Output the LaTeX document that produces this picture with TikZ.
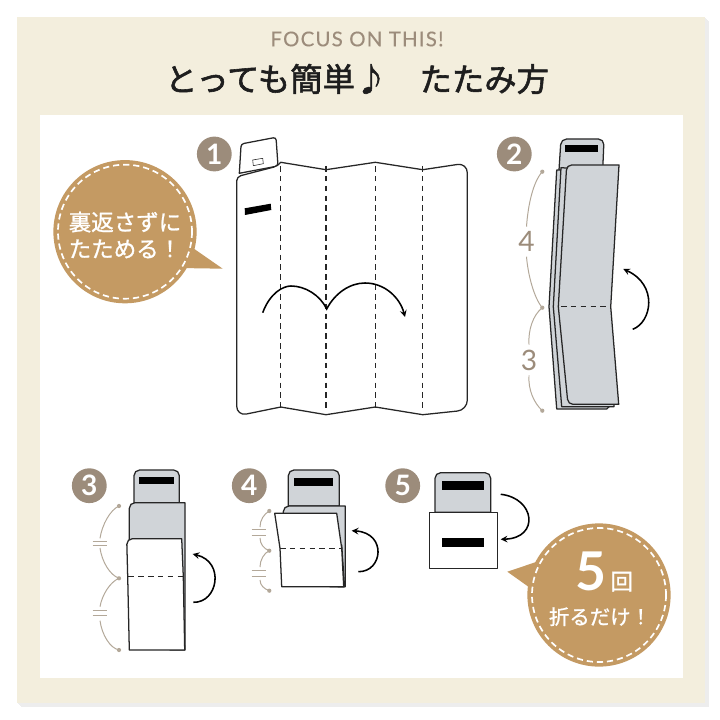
\documentclass[tikz,border=0pt]{standalone}
\usepackage{fontspec}
\usetikzlibrary{arrows}
\usetikzlibrary{positioning}
\setmainfont{Lato}
\newfontfamily\jpfont{Noto Sans CJK JP}[FakeBold=1.0]
\newfontfamily\jpheavy{Noto Sans CJK JP}[FakeBold=1.8]
\newfontfamily\spacedfont{Lato}[LetterSpace=6,FakeBold=0.2]
\definecolor{paneltan}{HTML}{F3EEDD}
\definecolor{taupe}{HTML}{9C8C7B}
\definecolor{braceline}{HTML}{B3A899}
\definecolor{bubbletan}{HTML}{C49A63}
\definecolor{sheetgray}{HTML}{D0D4D8}
\definecolor{titleink}{HTML}{1E1E1E}
\tikzset{
  outline/.style={draw=black!85, line width=0.9pt, line join=round},
  sheet/.style={outline, fill=sheetgray},
  page/.style={outline, fill=white},
  fold/.style={black!85, line width=0.8pt, dash pattern=on 4pt off 3pt},
  turn/.style={black, line width=1.1pt, ->},
  stepbadge/.style={circle, fill=taupe, text=white, minimum size=0.87cm, inner sep=0pt, font=\fontsize{20}{20}\selectfont\bfseries},
  bubble/.style={circle, fill=bubbletan, minimum size=3.58cm, inner sep=0pt},
  stitch/.style={white, line width=1.2pt, dash pattern=on 4.4pt off 2.8pt},
  bubbletext/.style={text=white, font=\jpfont\fontsize{16}{19}\selectfont, align=center},
  dotmark/.style={circle, fill=braceline, minimum size=3pt, inner sep=0pt},
  brace/.style={braceline, line width=0.7pt},
  count/.style={text=taupe, font=\fontsize{20}{20}\selectfont},
  bar/.style={fill=black}
}
\begin{document}
\begin{tikzpicture}[x=0.025cm, y=-0.025cm, >=stealth]
  \useasboundingbox (0, 0) rectangle (720, 720);
  \fill[white] (0, 0) rectangle (720, 720);
  % frame
  \foreach \i in {1,2,3,4} {
    \fill[black!7] (17+\i, 17+\i) rectangle (705+\i, 703+\i);
  }
  \fill[paneltan] (17, 17) rectangle (705, 703);
  \fill[white] (40, 115) rectangle (683, 678);
  \node[text=taupe, font=\spacedfont\fontsize{14.5}{14.5}\selectfont] (focus) at (357, 39) {FOCUS ON THIS!};
  \node[text=titleink, font=\jpheavy\fontsize{23}{23}\selectfont] (title) at (357, 79) {とっても簡単♪　たたみ方};

  % step one
  \node[stepbadge] (badgeA) at (214.3, 154) {1};
  \draw[page] (239.3, 173.3) -- (241, 146) [rounded corners=2pt] -- (241, 144) -- (276, 137.3) -- (278, 166) [sharp corners] -- cycle;
  \draw[outline, fill=white, thin] (252.7, 160) -- (262.7, 158.3) -- (263.3, 163.7) -- (253.3, 165.7) -- cycle;
  \draw[page] (236.7, 180) [rounded corners=3pt] -- (236.7, 176.7) -- (278, 166) [sharp corners] -- (280.7, 162.3) -- (326, 169.7) -- (375.3, 162.3) -- (422.7, 169.7) [rounded corners=7pt] -- (467.3, 163) -- (467.3, 410) [sharp corners] -- (422.7, 414.7) -- (375.3, 407) -- (326, 414.7) -- (280.7, 407) [rounded corners=7pt] -- (236.7, 416) [sharp corners] -- cycle;
  \foreach \x in {280.7, 326, 375.3, 422.7} {
    \draw[fold] (\x, 166) -- (\x, 411);
  }
  \fill[bar] (244.7, 208.3) -- (270.7, 203.7) -- (271.3, 210) -- (245, 215) -- cycle;
  \draw[turn] (262.7, 312.7) .. controls (270, 293) and (283, 286) .. (291, 286) .. controls (305, 286) and (320, 295) .. (326.7, 309) .. controls (335, 293) and (350, 283) .. (365, 283) .. controls (385, 283) and (400, 298) .. (405, 317);

  % left bubble
  \fill[bubbletan] (190, 246) -- (222.7, 268.7) -- (178, 268) -- cycle;
  \node[bubble] (bubbleA) at (125, 231.7) {};
  \draw[stitch] (bubbleA.center) circle (67);
  \node[bubbletext] (bubbleAtext) at (125, 235) {裏返さずに\\たためる！};

  % step two
  \node[stepbadge] (badgeB) at (514.3, 154) {2};
  \draw[sheet] (559, 170) [rounded corners=4pt] -- (561, 139) -- (604, 139) [sharp corners] -- (602.7, 170) -- cycle;
  \fill[bar] (565, 145) rectangle (598.3, 152.3);
  \draw[sheet] (556.7, 170) -- (549, 306.7) -- (556.7, 409) -- (606.7, 409) -- (612, 404) -- (600, 170) -- cycle;
  \draw[sheet] (561, 167.7) -- (553.3, 306.7) -- (561.7, 406.7) -- (614, 406.7) -- (614, 400) -- (600, 170) -- cycle;
  \draw[sheet] (558.3, 306.7) [rounded corners=3.5pt] -- (566.7, 165) [sharp corners] -- (619, 165) -- (610.7, 306.7) -- (618.7, 404.3) [rounded corners=3.5pt] -- (568, 404.3) [sharp corners] -- cycle;
  \draw[fold] (561, 306.7) -- (609.5, 306.7);
  \draw[turn] (632.7, 329.3) .. controls (652, 322) and (658, 285) .. (623.3, 269);
  \node[dotmark] (dotBa) at (542.3, 171.7) {};
  \node[dotmark] (dotBb) at (542.3, 307.7) {};
  \node[dotmark] (dotBc) at (542.3, 410.7) {};
  \node[count] (countB) at (526.5, 241.7) {4};
  \node[count] (countC) at (529, 360) {3};
  \draw[brace] (dotBa.center) .. controls (533, 182) and (528, 205) .. (countB.north);
  \draw[brace] (countB.south) .. controls (528, 275) and (534, 298) .. (dotBb.center);
  \draw[brace] (dotBb.center) .. controls (533, 315) and (528, 330) .. (countC.north);
  \draw[brace] (countC.south) .. controls (528, 390) and (534, 403) .. (dotBc.center);

  % step three
  \node[stepbadge] (badgeC) at (89.3, 485.7) {3};
  \draw[sheet] (134, 502.7) [rounded corners=4pt] -- (134, 470) -- (179.3, 470) [sharp corners] -- (179.3, 502.7) -- cycle;
  \fill[bar] (139.3, 477.3) rectangle (174.3, 484.3);
  \draw[sheet] (129.3, 545) [rounded corners=4pt] -- (129.3, 502.7) [sharp corners] -- (185, 502.7) -- (185, 650) -- (170, 650) -- cycle;
  \draw[page] (127.7, 576.7) [rounded corners=4pt] -- (126.7, 538.7) [sharp corners] -- (181.7, 538.7) -- (183.3, 576.7) -- (184.7, 650) -- (129.3, 650) -- cycle;
  \draw[fold] (128.3, 576.7) -- (183, 576.7);
  \draw[turn] (193.3, 602.3) .. controls (218, 603) and (225, 562) .. (192.7, 554);
  \node[dotmark] (dotCa) at (119, 506) {};
  \node[dotmark] (dotCb) at (119, 578.3) {};
  \node[dotmark] (dotCc) at (119, 650) {};
  \coordinate (gapCa) at (100, 538.3);
  \coordinate (gapCb) at (100, 548);
  \coordinate (gapCc) at (100, 606.7);
  \coordinate (gapCd) at (100, 620.7);
  \draw[brace] (dotCa.center) .. controls (110, 510) and (102, 525) .. (gapCa);
  \draw[brace] (gapCb) .. controls (102, 562) and (110, 575) .. (dotCb.center);
  \draw[brace] (dotCb.center) .. controls (110, 582) and (102, 595) .. (gapCc);
  \draw[brace] (gapCd) .. controls (102, 635) and (110, 648) .. (dotCc.center);
  \foreach \y in {541, 545.7, 610.7, 615.7} {
    \draw[brace] (92.7, \y) -- (107.3, \y);
  }

  % step four
  \node[stepbadge] (badgeD) at (249.3, 485.7) {4};
  \draw[sheet] (288.3, 506) [rounded corners=4pt] -- (288.3, 470) -- (339.3, 470) [sharp corners] -- (339.3, 506) -- cycle;
  \fill[bar] (294.3, 477.7) rectangle (333.3, 485.7);
  \draw[sheet] (283.3, 515) [rounded corners=4pt] -- (283.3, 506) [sharp corners] -- (345.3, 506) -- (345.3, 586.7) -- (330, 586.7) -- cycle;
  \draw[page] (338, 545) -- (341.7, 545) -- (344.5, 586.7) -- (338, 586.7) -- cycle;
  \draw[page] (274.7, 513.3) -- (336.7, 513.3) -- (341.7, 548.3) -- (343.7, 586.7) -- (281.7, 586.7) -- (280, 548.3) -- cycle;
  \draw[fold] (280, 548.3) -- (341.7, 548.3);
  \draw[turn] (358.3, 571.7) .. controls (383, 572) and (387, 533) .. (351.7, 530.7);
  \node[dotmark] (dotDa) at (269.3, 511) {};
  \node[dotmark] (dotDb) at (269.3, 550.7) {};
  \node[dotmark] (dotDc) at (269.3, 590.7) {};
  \coordinate (gapDa) at (260, 527);
  \coordinate (gapDb) at (260, 538);
  \coordinate (gapDc) at (260, 567);
  \coordinate (gapDd) at (260, 580);
  \draw[brace] (dotDa.center) .. controls (264, 514) and (260, 520) .. (gapDa);
  \draw[brace] (gapDb) .. controls (260, 544) and (264, 549) .. (dotDb.center);
  \draw[brace] (dotDb.center) .. controls (264, 553) and (260, 560) .. (gapDc);
  \draw[brace] (gapDd) .. controls (260, 585) and (264, 589) .. (dotDc.center);
  \foreach \y in {529.3, 535.3, 570.7, 576.7} {
    \draw[brace] (251.7, \y) -- (265.7, \y);
  }

  % step five
  \node[stepbadge] (badgeE) at (402.7, 485.7) {5};
  \draw[sheet] (435, 512.3) [rounded corners=4pt] -- (435, 472.7) -- (490.7, 472.7) [sharp corners] -- (490.7, 512.3) -- cycle;
  \fill[bar] (441.7, 481.3) rectangle (484.3, 490);
  \draw[page] (429.3, 512.3) rectangle (497.3, 568.3);
  \fill[bar] (441.7, 538) rectangle (484.3, 546.7);
  \draw[turn] (500.7, 494.3) .. controls (535, 498) and (540, 538) .. (500.7, 539.3);

  % right bubble
  \fill[bubbletan] (507.3, 571.7) -- (548, 558) -- (533, 590) -- cycle;
  \node[bubble] (bubbleB) at (599, 595) {};
  \draw[stitch] (bubbleB.center) circle (67);
  \node[text=white, font=\fontsize{38}{38}\selectfont\bfseries] (fiveB) at (590.7, 571.7) {5};
  \node[text=white, font=\jpfont\fontsize{16}{16}\selectfont] (kaiB) at (621.7, 581.7) {回};
  \node[text=white, font=\jpfont\fontsize{14.5}{14.5}\selectfont] (foldB) at (600, 616.7) {折るだけ！};
\end{tikzpicture}
\end{document}
